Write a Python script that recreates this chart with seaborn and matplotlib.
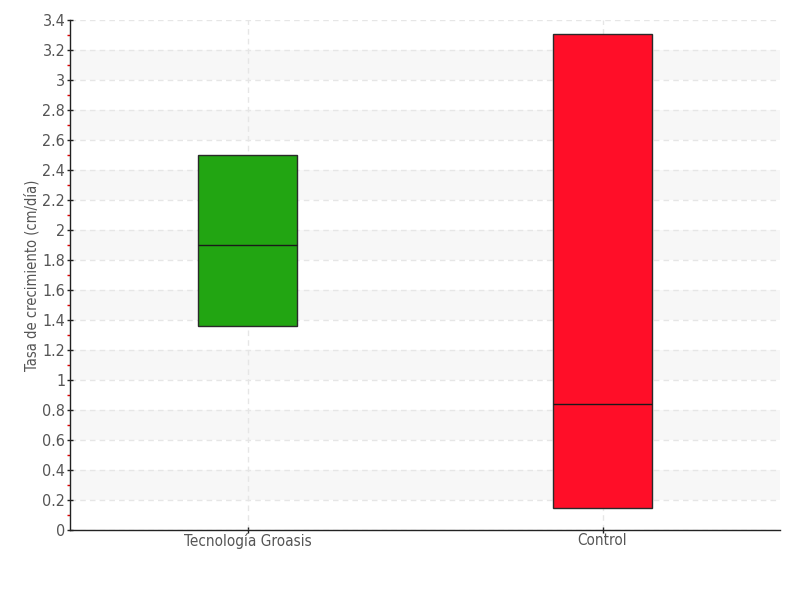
import numpy as np
import pandas as pd
import matplotlib
matplotlib.use("Agg")
import matplotlib.pyplot as plt
import seaborn as sns
from matplotlib.ticker import MultipleLocator

categories = ["Tecnología Groasis", "Control"]
# box summary: lower quartile, median, upper quartile
q1_values = [1.36, 0.145]
median_values = [1.90, 0.84]
q3_values = [2.50, 3.31]
box_colors = ["#22a512", "#ff0e28"]
y_label = "Tasa de crecimiento (cm/día)"

rows = []
for cat, q1, med, q3 in zip(categories, q1_values, median_values, q3_values):
    for v in [q1, q1, med, q3, q3]:
        rows.append({"grupo": cat, "valor": v})
df = pd.DataFrame(rows)

sns.set_style("white")
plt.rcParams["font.family"] = ["DejaVu Sans"]
plt.rcParams["font.stretch"] = "condensed"

fig = plt.figure(figsize=(8, 6), dpi=100)
ax = fig.add_axes([70 / 800, 70 / 600, 710 / 800, 510 / 600])

# alternating bands
for lo in np.arange(0.2, 3.4, 0.4):
    ax.axhspan(lo, lo + 0.2, color="#f7f7f7", zorder=0, lw=0)

sns.boxplot(data=df, x="grupo", y="valor", hue="grupo", palette=box_colors,
            order=categories, hue_order=categories, legend=False,
            width=0.28, whis=0, showcaps=False, showfliers=False,
            saturation=1, linewidth=1.0, ax=ax,
            boxprops=dict(edgecolor="#2a2a2a", zorder=3),
            medianprops=dict(color="#1a1a1a", linewidth=1.0, zorder=4),
            whiskerprops=dict(linewidth=0))

ax.set_xlim(-0.5, 1.5)
ax.set_ylim(0, 3.4)
ax.yaxis.set_major_locator(MultipleLocator(0.2))
ax.yaxis.set_minor_locator(MultipleLocator(0.1))
ax.set_yticklabels([("%g" % t) for t in np.round(ax.get_yticks(), 1)])

ax.grid(axis="y", which="major", color="#e6e6e6", linestyle=(0, (4, 3)), linewidth=1, zorder=1)
ax.grid(axis="x", which="major", color="#e6e6e6", linestyle=(0, (4, 3)), linewidth=1, zorder=1)
ax.set_axisbelow(True)

for s in ["top", "right"]:
    ax.spines[s].set_visible(False)
ax.spines["left"].set_color("#222222")
ax.spines["bottom"].set_color("#222222")
ax.spines["left"].set_linewidth(1)
ax.spines["bottom"].set_linewidth(1)

ax.tick_params(axis="y", which="major", direction="inout", length=5, width=1,
               color="#222222", labelsize=11.5, labelcolor="#555555", left=True, pad=1)
ax.tick_params(axis="y", which="minor", direction="out", length=2.5, width=1,
               color="#e00000", left=True)
ax.tick_params(axis="x", which="major", direction="inout", length=4, width=1,
               color="#222222", labelsize=11, labelcolor="#555555", bottom=True, pad=0)

ax.set_xlabel("")
ax.set_ylabel(y_label, fontsize=10.5, color="#555555", labelpad=2)

fig.savefig("out.png", dpi=100)
